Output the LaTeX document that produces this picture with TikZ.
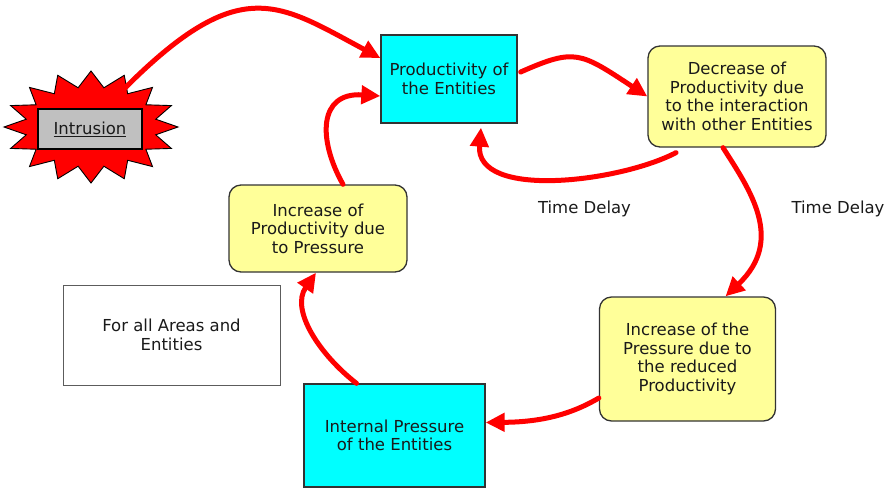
\documentclass[tikz,border=0pt]{standalone}
\usepackage{fontspec}
\setmainfont{DejaVu Sans}
\usetikzlibrary{arrows.meta}

\definecolor{boxcyan}{HTML}{00FFFF}
\definecolor{boxyellow}{HTML}{FFFF99}
\definecolor{boxgray}{HTML}{C0C0C0}
\definecolor{edgegray}{HTML}{333333}
\definecolor{inkblack}{HTML}{1A1A1A}

\tikzset{
  label text/.style={font=\fontsize{16.5}{18.5}\selectfont, text=inkblack, align=center},
  plainbox/.style={label text, draw=edgegray, line width=1.3pt, inner sep=0pt},
  cyanbox/.style={plainbox, fill=boxcyan},
  yellowbox/.style={plainbox, fill=boxyellow, rounded corners=12pt},
  whitebox/.style={plainbox, draw=edgegray!80, line width=1pt, fill=white},
  flow/.style={draw=red, line width=5pt, line cap=round, line join=round,
    -{Triangle[length=19pt,width=18pt]}},
}

\begin{document}
\begin{tikzpicture}[x=1pt,y=-1pt]
  \useasboundingbox[fill=white] (0,0) rectangle (891,488);

  % starburst behind the intrusion label
  \draw[fill=red, draw=black, line width=0.9pt, line join=miter]
    plot[samples at={0,...,31}, variable=\k]
      ({91+ifthenelse(mod(\k,2)==0,87,66)*cos(\k*11.25)},
       {127-ifthenelse(mod(\k,2)==0,56,40)*sin(\k*11.25)}) -- cycle;
  \coordinate (burstTip) at (125,88);

  \node[label text, draw=black, line width=1.2pt, fill=boxgray,
        minimum width=104pt, minimum height=40pt, inner sep=0pt]
    (intr) at (90,129) {\underline{Intrusion}};

  % boxes
  \node[cyanbox, minimum width=136pt, minimum height=88pt]
    (prod) at (449,79) {Productivity of\\the Entities};
  \node[yellowbox, minimum width=178pt, minimum height=101pt]
    (dec) at (737,96.5) {Decrease of\\Productivity due\\to the interaction\\with other Entities};
  \node[yellowbox, minimum width=176pt, minimum height=124pt]
    (pres) at (687.5,359) {Increase of the\\Pressure due to\\the reduced\\Productivity};
  \node[cyanbox, minimum width=181pt, minimum height=103pt]
    (intp) at (394.5,435.5) {Internal Pressure\\of the Entities};
  \node[yellowbox, minimum width=178pt, minimum height=87pt]
    (incp) at (318,228.5) {Increase of\\Productivity due\\to Pressure};
  \node[whitebox, minimum width=217pt, minimum height=100pt]
    (areas) at (171.5,335) {For all Areas and\\Entities};

  % delay labels
  \node[label text] (delayA) at (584.5,209) {Time Delay};
  \node[label text] (delayB) at (838,209) {Time Delay};

  % connectors
  \draw[flow] (burstTip) .. controls (241,-28) and (279,4) .. ([shift={(0,-21)}]prod.west);
  \draw[flow] ([shift={(3,-7)}]prod.east) .. controls (575,48) and (580,52) .. (dec.west);
  \draw[flow] ([shift={(-61,5)}]dec.south) .. controls (620,182) and (475,200) .. ([shift={(32,4)}]prod.south);
  \draw[flow] ([shift={(-14,0)}]dec.south) .. controls (750,190) and (785,240) .. ([shift={(38,0)}]pres.north);
  \draw[flow] ([shift={(0,39)}]pres.west) .. controls (570,415) and (540,422) .. ([shift={(0,-13)}]intp.east);
  \draw[flow] ([shift={(-38,0)}]intp.north) .. controls (320,355) and (290,310) .. ([shift={(-2,0)}]incp.south);
  \draw[flow] ([shift={(25,0)}]incp.north) .. controls (318,140) and (318,92) .. ([shift={(0,17)}]prod.west);
\end{tikzpicture}
\end{document}
